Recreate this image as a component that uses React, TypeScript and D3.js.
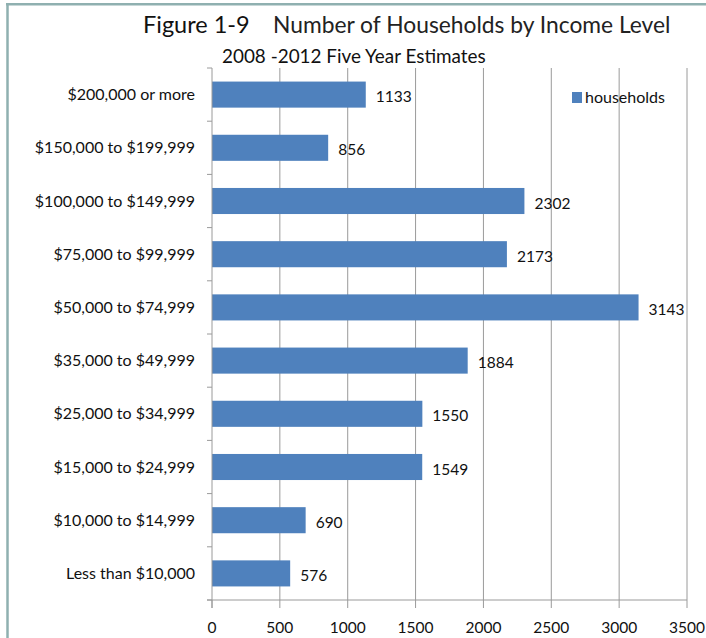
import React from "react";
import * as d3 from "d3";

const categories = [
  "$200,000 or more",
  "$150,000 to $199,999",
  "$100,000 to $149,999",
  "$75,000 to $99,999",
  "$50,000 to $74,999",
  "$35,000 to $49,999",
  "$25,000 to $34,999",
  "$15,000 to $24,999",
  "$10,000 to $14,999",
  "Less than $10,000",
];
const households = [1133, 856, 2302, 2173, 3143, 1884, 1550, 1549, 690, 576];
const xTicks = [0, 500, 1000, 1500, 2000, 2500, 3000, 3500];
const titleLead = "Figure 1-9";
const titleMain = "Number of Households by Income Level";
const subtitle = "2008 -2012 Five Year Estimates";
const seriesName = "households";

const W = 706;
const H = 638;
const FONT = "Lato, 'Open Sans', sans-serif";
const BAR = "#4f81bd";
const GRID = "#9a9a9a";

export default function App() {
  const x = d3.scaleLinear().domain([0, 3500]).range([212, 687]);
  const y = d3
    .scaleBand<string>()
    .domain(categories)
    .range([68, 600])
    .paddingInner(0.51)
    .paddingOuter(0.255);
  const step = y.step();
  const top = 68;
  const bottom = 600;
  const boundaries = d3.range(categories.length + 1).map((i) => top + i * step);

  return (
    <svg
      width={W}
      height={H}
      style={{ position: "absolute", left: 0, top: 0, background: "#fff" }}
      fontFamily={FONT}
    >
      <rect x={0} y={0} width={W} height={H} fill="#fff" />
      {/* frame */}
      <line x1={7.5} y1={4} x2={7.5} y2={H} stroke="#8fb0b0" strokeWidth={2.5} />
      <line x1={6} y1={4.2} x2={W} y2={4.2} stroke="#8fb0b0" strokeWidth={2.5} />

      {/* titles */}
      <text x={143} y={33} fontSize={23.5} fill="#111">{titleLead}</text>
      <text x={273} y={33} fontSize={22.8} fill="#222">{titleMain}</text>
      <text x={222} y={63} fontSize={18.9} fill="#111">{subtitle}</text>

      {/* gridlines */}
      {xTicks.slice(1).map((t) => (
        <line key={t} x1={x(t)} x2={x(t)} y1={top} y2={bottom} stroke={GRID} strokeWidth={1} />
      ))}

      {/* bars */}
      {categories.map((c, i) => (
        <rect
          key={c}
          x={x(0)}
          y={y(c)}
          width={x(households[i]) - x(0)}
          height={y.bandwidth()}
          fill={BAR}
        />
      ))}

      {/* y axis */}
      <line x1={x(0)} x2={x(0)} y1={top} y2={bottom + 8} stroke={GRID} strokeWidth={1} />
      {boundaries.map((b, i) => (
        <line key={i} x1={x(0) - 5} x2={x(0)} y1={b} y2={b} stroke={GRID} strokeWidth={1} />
      ))}
      {categories.map((c) => (
        <text
          key={c}
          x={195}
          y={(y(c) as number) + y.bandwidth() / 2 + 5.5}
          textAnchor="end"
          fontSize={16}
          fill="#111"
        >
          {c}
        </text>
      ))}

      {/* x axis */}
      <line x1={x(0) - 5} x2={x(3500)} y1={bottom} y2={bottom} stroke={GRID} strokeWidth={1} />
      {xTicks.map((t) => (
        <g key={t}>
          <line x1={x(t)} x2={x(t)} y1={bottom} y2={bottom + 8} stroke={GRID} strokeWidth={1} />
          <text x={x(t)} y={633} textAnchor="middle" fontSize={15.5} fill="#111">
            {t}
          </text>
        </g>
      ))}

      {/* value labels */}
      {categories.map((c, i) => (
        <text
          key={c}
          x={x(households[i]) + 10}
          y={(y(c) as number) + y.bandwidth() / 2 + 7.5}
          fontSize={15.5}
          fill="#111"
        >
          {households[i]}
        </text>
      ))}

      {/* legend */}
      <rect x={572} y={92} width={10} height={11} fill={BAR} />
      <text x={585} y={103} fontSize={16} fill="#111">{seriesName}</text>
    </svg>
  );
}
